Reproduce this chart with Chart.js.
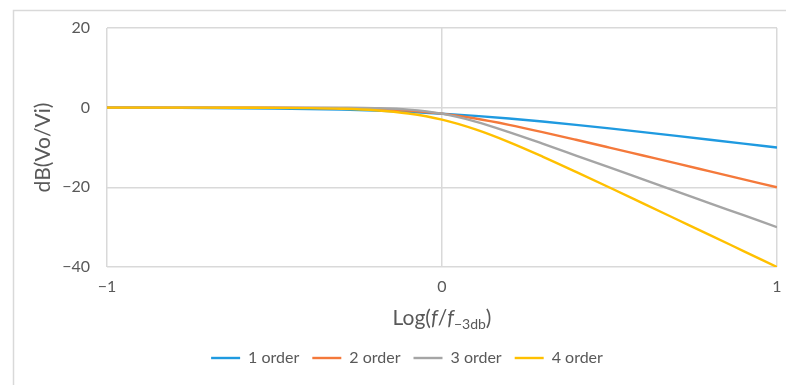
<!DOCTYPE html>
<html>
<head>
<meta charset="utf-8">
<script src="https://cdn.jsdelivr.net/npm/chart.js@4/dist/chart.umd.min.js"></script>
<style>
  html, body { margin: 0; padding: 0; background: #ffffff; }
  #wrap { position: relative; width: 786px; height: 385px; }
</style>
</head>
<body>
<div id="wrap"><canvas id="chart" width="786" height="385"></canvas></div>
<script>
// Normalised frequency, log10(f / f-3dB)
const logFreq = [-1.0, -0.9, -0.8, -0.7, -0.6, -0.5, -0.4, -0.3, -0.2, -0.1, 0.0,
                 0.1, 0.2, 0.3, 0.4, 0.5, 0.6, 0.7, 0.8, 0.9, 1.0];

// Gain in dB for each filter order
const order1 = [-0.02, -0.03, -0.05, -0.08, -0.13, -0.21, -0.32, -0.49, -0.73, -1.06, -1.51,
                -2.06, -2.73, -3.49, -4.32, -5.21, -6.13, -7.08, -8.05, -9.03, -10.02];
const order2 = [0.00, 0.00, 0.00, 0.00, -0.01, -0.02, -0.05, -0.13, -0.32, -0.73, -1.51,
                -2.73, -4.32, -6.13, -8.05, -10.02, -12.01, -14.00, -16.00, -18.00, -20.00];
const order3 = [0.00, 0.00, 0.00, 0.00, 0.00, 0.00, -0.01, -0.03, -0.13, -0.49, -1.51,
                -3.49, -6.13, -9.03, -12.01, -15.00, -18.00, -21.00, -24.00, -27.00, -30.00];
const order4 = [0.00, 0.00, 0.00, 0.00, -0.02, -0.04, -0.11, -0.27, -0.64, -1.46, -3.01,
                -5.46, -8.64, -12.27, -16.11, -20.04, -24.02, -28.01, -32.00, -36.00, -40.00];

const seriesNames = ['1 order', '2 order', '3 order', '4 order'];
const seriesValues = [order1, order2, order3, order4];
const seriesColors = ['#1f9ae0', '#f4793b', '#a5a5a5', '#ffc000'];

const xTicks = [-1, 0, 1];
const yTicks = [-40, -20, 0, 20];

const FONT = 'Lato, "Open Sans", "Liberation Sans", sans-serif';
const TEXT = '#595959';
const GRID = '#d9d9d9';

const fmt = v => (v < 0 ? '\u2212' + Math.abs(v) : String(v));

const datasets = seriesNames.map((name, i) => ({
  label: name,
  data: logFreq.map((x, k) => ({ x: x, y: seriesValues[i][k] })),
  borderColor: seriesColors[i],
  backgroundColor: seriesColors[i],
  borderWidth: 2.4,
  pointRadius: 0,
  showLine: true,
  fill: false,
  cubicInterpolationMode: 'monotone',
  order: seriesNames.length - i   // later series drawn on top
}));

// Outer frame of the chart object
const framePlugin = {
  id: 'frame',
  beforeDraw(chart) {
    const ctx = chart.ctx;
    ctx.save();
    ctx.strokeStyle = GRID;
    ctx.lineWidth = 1.5;
    ctx.beginPath();
    ctx.moveTo(13.5, 385);
    ctx.lineTo(13.5, 10.5);
    ctx.lineTo(786, 10.5);
    ctx.stroke();
    ctx.restore();
  }
};

// X axis title with italic f and subscript
const xTitlePlugin = {
  id: 'xTitle',
  afterDraw(chart) {
    const ctx = chart.ctx;
    const area = chart.chartArea;
    const base = 325;
    const parts = [
      { t: 'Log(', f: '21px ' + FONT, dy: 0 },
      { t: 'f', f: 'italic 21px ' + FONT, dy: 0 },
      { t: '/', f: '21px ' + FONT, dy: 0 },
      { t: 'f', f: 'italic 21px ' + FONT, dy: 0 },
      { t: '\u22123db', f: '14px ' + FONT, dy: 4 },
      { t: ')', f: '21px ' + FONT, dy: 0 }
    ];
    ctx.save();
    ctx.fillStyle = TEXT;
    ctx.textBaseline = 'alphabetic';
    ctx.textAlign = 'left';
    let total = 0;
    parts.forEach(p => { ctx.font = p.f; p.w = ctx.measureText(p.t).width; total += p.w; });
    let x = (area.left + area.right) / 2 - total / 2;
    parts.forEach(p => {
      ctx.font = p.f;
      ctx.fillText(p.t, x, base + p.dy);
      x += p.w;
    });
    ctx.restore();
  }
};

new Chart(document.getElementById('chart'), {
  type: 'scatter',
  data: { datasets: datasets },
  plugins: [framePlugin, xTitlePlugin],
  options: {
    responsive: false,
    animation: false,
    layout: { padding: { left: 28, right: 0, top: 28, bottom: 9 } },
    plugins: {
      tooltip: { enabled: false },
      legend: {
        position: 'bottom',
        labels: {
          usePointStyle: true,
          pointStyle: 'line',
          pointStyleWidth: 29,
          boxHeight: 16,
          padding: 13,
          color: TEXT,
          font: { family: FONT, size: 16 },
          sort: (a, b) => a.datasetIndex - b.datasetIndex
        }
      }
    },
    scales: {
      x: {
        type: 'linear',
        min: -1, max: 1,
        afterBuildTicks: s => { s.ticks = xTicks.map(v => ({ value: v })); },
        afterFit: s => { s.height = 70; s.paddingRight = 9; },
        grid: { color: GRID, lineWidth: 1.5, drawTicks: false },
        border: { display: false },
        ticks: { padding: 10, color: TEXT, font: { family: FONT, size: 16 }, callback: v => fmt(v) }
      },
      y: {
        type: 'linear',
        min: -40, max: 20,
        afterBuildTicks: s => { s.ticks = yTicks.map(v => ({ value: v })); },
        afterFit: s => { s.width = 79; },
        grid: { color: GRID, lineWidth: 1.5, drawTicks: false },
        border: { display: false },
        title: { display: true, text: 'dB(Vo/Vi)', color: TEXT, font: { family: FONT, size: 21 }, padding: { top: 3, bottom: 4 } },
        ticks: { padding: 17, color: TEXT, font: { family: FONT, size: 16 }, callback: v => fmt(v) }
      }
    }
  }
});
</script>
</body>
</html>
